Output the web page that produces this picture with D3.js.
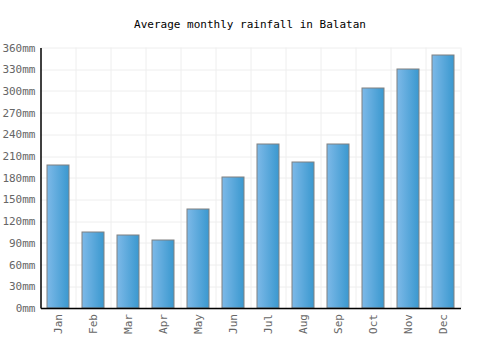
<!DOCTYPE html>
<html>
<head>
<meta charset="utf-8">
<script src="https://cdn.jsdelivr.net/npm/d3@7"></script>
<style>
  body { margin: 0; background: #fff; }
  text { font-family: "DejaVu Sans Mono", monospace; }
</style>
</head>
<body>
<div id="chart"></div>
<script>
// Data
const months = ["Jan", "Feb", "Mar", "Apr", "May", "Jun", "Jul", "Aug", "Sep", "Oct", "Nov", "Dec"];
const rainfall = [198, 106, 102, 95, 138, 182, 228, 203, 228, 305, 331, 351];
const yTicks = [0, 30, 60, 90, 120, 150, 180, 210, 240, 270, 300, 330, 360];

const margin = {top: 47.5, right: 39.5, bottom: 42, left: 40.5},
    width = 500 - margin.left - margin.right,
    height = 350 - margin.top - margin.bottom;

const svg = d3.select("#chart")
    .append("svg")
    .attr("width", 500)
    .attr("height", 350);

// Bar gradient
const grad = svg.append("defs").append("linearGradient")
    .attr("id", "barGrad")
    .attr("x1", "0%").attr("x2", "100%")
    .attr("y1", "0%").attr("y2", "0%");
grad.append("stop").attr("offset", "0%").attr("stop-color", "#7db9e8");
grad.append("stop").attr("offset", "100%").attr("stop-color", "#3a98cf");

svg.append("text")
    .attr("x", 250)
    .attr("y", 28)
    .attr("text-anchor", "middle")
    .attr("font-size", 11)
    .attr("fill", "#000")
    .text("Average monthly rainfall in Balatan");

const g = svg.append("g")
    .attr("transform", `translate(${margin.left}, ${margin.top})`);

const x = d3.scaleBand()
    .domain(months)
    .range([0, width])
    .paddingInner(0.333)
    .paddingOuter(0.1667);

const y = d3.scaleLinear()
    .domain([0, 360])
    .range([height, 0]);

// Grid lines
g.append("g")
    .selectAll("line.h")
    .data(yTicks)
    .join("line")
    .attr("x1", 0).attr("x2", width)
    .attr("y1", d => Math.round(y(d)) + 0.5)
    .attr("y2", d => Math.round(y(d)) + 0.5)
    .attr("stroke", "#eeeeee");

const step = width / months.length;
g.append("g")
    .selectAll("line.v")
    .data(d3.range(1, months.length + 1))
    .join("line")
    .attr("x1", i => Math.round(i * step) + 0.5)
    .attr("x2", i => Math.round(i * step) + 0.5)
    .attr("y1", 0).attr("y2", height)
    .attr("stroke", "#eeeeee");

// Bars
g.append("g")
    .selectAll("rect")
    .data(rainfall)
    .join("rect")
    .attr("x", (d, i) => Math.round(x(months[i])) + 0.5)
    .attr("y", d => Math.round(y(d)) + 0.5)
    .attr("width", Math.round(x.bandwidth()) - 1)
    .attr("height", d => height - Math.round(y(d)) - 0.5)
    .attr("fill", "url(#barGrad)")
    .attr("stroke", "#808080")
    .attr("stroke-width", 1);

// Y axis
const yAxis = g.append("g")
    .call(d3.axisLeft(y).tickValues(yTicks).tickSize(0).tickPadding(5).tickFormat(d => d + "mm"));
yAxis.select(".domain").attr("stroke", "#000").attr("stroke-width", 1.5);
yAxis.selectAll("text")
    .attr("font-family", "'DejaVu Sans Mono', monospace")
    .attr("font-size", 11)
    .attr("fill", "#666");

// X axis
const xAxis = g.append("g")
    .attr("transform", `translate(0, ${height})`)
    .call(d3.axisBottom(x).tickSize(0));
xAxis.select(".domain").attr("stroke", "#000").attr("stroke-width", 1.5);
xAxis.selectAll("text")
    .attr("font-family", "'DejaVu Sans Mono', monospace")
    .attr("font-size", 11)
    .attr("fill", "#666")
    .attr("transform", "rotate(-90)")
    .attr("text-anchor", "end")
    .attr("x", -6)
    .attr("y", 0)
    .attr("dy", "0.35em");
</script>
</body>
</html>
